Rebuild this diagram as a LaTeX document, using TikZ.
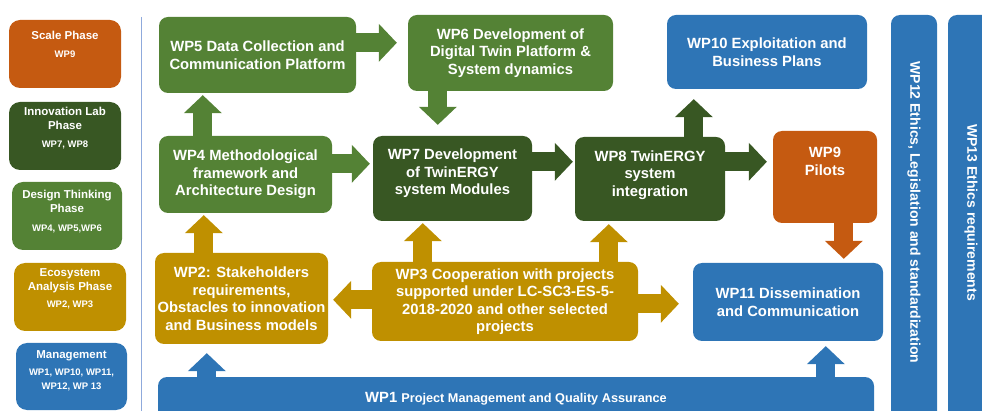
\documentclass[tikz,border=0pt]{standalone}
\usepackage{fontspec}
\setmainfont{Liberation Sans}
\usetikzlibrary{arrows.meta}

\definecolor{scaleorange}{HTML}{C55A11}
\definecolor{labgreen}{HTML}{385723}
\definecolor{designgreen}{HTML}{548235}
\definecolor{ecogold}{HTML}{BF9000}
\definecolor{mgmtblue}{HTML}{2E75B6}
\definecolor{sepblue}{HTML}{8FAADC}

\newcommand{\liftby}[1]{\rule[-#1]{0pt}{0pt}} % deeper last line pushes the text up
\newcommand{\wpsub}{\fontsize{9.5}{13}\selectfont}

\begin{document}
\begin{tikzpicture}[x=1pt, y=-1pt,
  wp/.style={rectangle, rounded corners=9pt, inner sep=0pt, text=white, align=center,
    font=\bfseries\fontsize{14.8}{17.5}\selectfont},
  phase/.style={wp, rounded corners=11pt, font=\bfseries\fontsize{11.5}{14}\selectfont},
  flow/.style={line width=19pt, draw=#1, -{Triangle[width=38pt, length=18pt, line width=0pt]}}]

  \clip (0,0) rectangle (982,411);

  % phases on the left
  \node[phase, fill=scaleorange, minimum width=112pt, minimum height=68pt] (scale) at (65,54)
    {Scale Phase\\[4pt]\wpsub WP9\liftby{19pt}};
  \node[phase, fill=labgreen, minimum width=112pt, minimum height=68pt] (innolab) at (65,136)
    {Innovation Lab\\Phase\\[4pt]\wpsub WP7, WP8\liftby{17pt}};
  \node[phase, fill=designgreen, minimum width=110pt, minimum height=68pt] (design) at (67,216)
    {Design Thinking\\Phase\\[5pt]\wpsub WP4, WP5,WP6\liftby{11pt}};
  \node[phase, fill=ecogold, minimum width=112pt, minimum height=68pt] (ecosys) at (70,297)
    {Ecosystem\\Analysis Phase\\[3pt]\wpsub WP2, WP3\liftby{17pt}};
  \node[phase, fill=mgmtblue, minimum width=111pt, minimum height=67pt] (mgmt) at (71.5,376.5)
    {Management\\[3pt]\wpsub WP1, WP10, WP11,\\\wpsub WP12, WP 13\liftby{12pt}};

  \draw[sepblue, thin] (141,17) -- (141,411);

  % work packages
  \node[wp, fill=designgreen, minimum width=197pt, minimum height=76pt] (wp5) at (257.5,55)
    {WP5 Data Collection and\\Communication Platform};
  \node[wp, fill=designgreen, minimum width=205pt, minimum height=76pt] (wp6) at (510.5,53)
    {WP6 Development of\\Digital Twin Platform \&\\System dynamics};
  \node[wp, fill=mgmtblue, minimum width=200pt, minimum height=74pt] (wp10) at (767,52)
    {WP10 Exploitation and\\Business Plans};
  \node[wp, fill=designgreen, minimum width=173pt, minimum height=77pt] (wp4) at (245.5,174.5)
    {WP4 Methodological\\framework and\\Architecture Design};
  \node[wp, fill=labgreen, minimum width=159pt, minimum height=85pt] (wp7) at (452.5,178.5)
    {WP7 Development\\of TwinERGY\\system Modules\liftby{13pt}};
  \node[wp, fill=labgreen, minimum width=150pt, minimum height=84pt] (wp8) at (650,179)
    {WP8 TwinERGY\\system\\integration\liftby{11pt}};
  \node[wp, fill=scaleorange, minimum width=104pt, minimum height=92pt] (wp9) at (825,177)
    {WP9\\Pilots\liftby{31pt}};
  \node[wp, fill=ecogold, minimum width=173pt, minimum height=91pt] (wp2) at (241.5,298.5)
    {WP2: Stakeholders\\requirements,\\Obstacles to innovation\\and Business models};
  \node[wp, fill=ecogold, minimum width=266pt, minimum height=79pt] (wp3) at (505,301.5)
    {WP3 Cooperation with projects\\supported under LC-SC3-ES-5-\\2018-2020 and other selected\\projects};
  \node[wp, fill=mgmtblue, minimum width=190pt, minimum height=78pt] (wp11) at (788,302)
    {WP11 Dissemination\\and Communication};
  \node[wp, fill=mgmtblue, minimum width=716pt, minimum height=43pt] (wp1) at (516,398.5)
    {WP1 {\fontsize{12.7}{15}\selectfont Project Management and Quality Assurance}};
  \node[wp, fill=mgmtblue, rotate=-90, minimum width=405pt, minimum height=46pt,
    font=\bfseries\fontsize{14}{17}\selectfont] (wp12) at (914,217.5)
    {WP12 Ethics, Legislation and standardization\hspace*{10pt}};
  \node[wp, fill=mgmtblue, rotate=-90, minimum width=405pt, minimum height=46pt,
    font=\bfseries\fontsize{14}{17}\selectfont] (wp13) at (971,217.5)
    {WP13 Ethics requirements\hspace*{10pt}};

  % block arrows
  \draw[flow=designgreen] ([yshift=-26pt]wp5.north east) -- ([xshift=-11pt,yshift=-28pt]wp6.north west);
  \draw[flow=designgreen] ([xshift=30pt]wp6.south west) -- ([xshift=65pt,yshift=11pt]wp7.north west);
  \draw[flow=designgreen] ([xshift=44pt]wp4.north west) -- ([xshift=44pt,yshift=-2pt]wp5.south west);
  \draw[flow=designgreen] ([yshift=-28pt]wp4.north east) -- ([xshift=-3pt,yshift=-28pt]wp7.north west);
  \draw[flow=labgreen] ([yshift=-26pt]wp7.north east) -- ([xshift=-2pt,yshift=-25pt]wp8.north west);
  \draw[flow=labgreen] ([yshift=-25pt]wp8.north east) -- ([xshift=-6pt,yshift=-31pt]wp9.north west);
  \draw[flow=labgreen] ([xshift=119pt]wp8.north west) -- ([xshift=27pt,yshift=-10pt]wp10.south west);
  \draw[flow=scaleorange] ([xshift=71pt]wp9.south west) -- ([xshift=151pt,yshift=4pt]wp11.north west);
  \draw[flow=ecogold] ([xshift=49pt]wp2.north west) -- ([xshift=45pt,yshift=-2pt]wp4.south west);
  \draw[flow=ecogold] ([xshift=51pt]wp3.north west) -- ([xshift=50pt,yshift=-2pt]wp7.south west);
  \draw[flow=ecogold] ([xshift=237pt]wp3.north west) -- ([xshift=34pt,yshift=-3pt]wp8.south west);
  \draw[flow=ecogold] ([yshift=-38pt]wp3.north west) -- ([xshift=5pt,yshift=-47pt]wp2.north east);
  \draw[flow=ecogold] ([yshift=-42pt]wp3.north east) -- ([xshift=-14pt,yshift=-41pt]wp11.north west);
  \draw[flow=mgmtblue] ([xshift=49pt]wp1.north west) -- ([xshift=52pt,yshift=-9pt]wp2.south west);
  \draw[flow=mgmtblue] ([xshift=668pt]wp1.north west) -- ([xshift=133pt,yshift=-5pt]wp11.south west);
\end{tikzpicture}
\end{document}
